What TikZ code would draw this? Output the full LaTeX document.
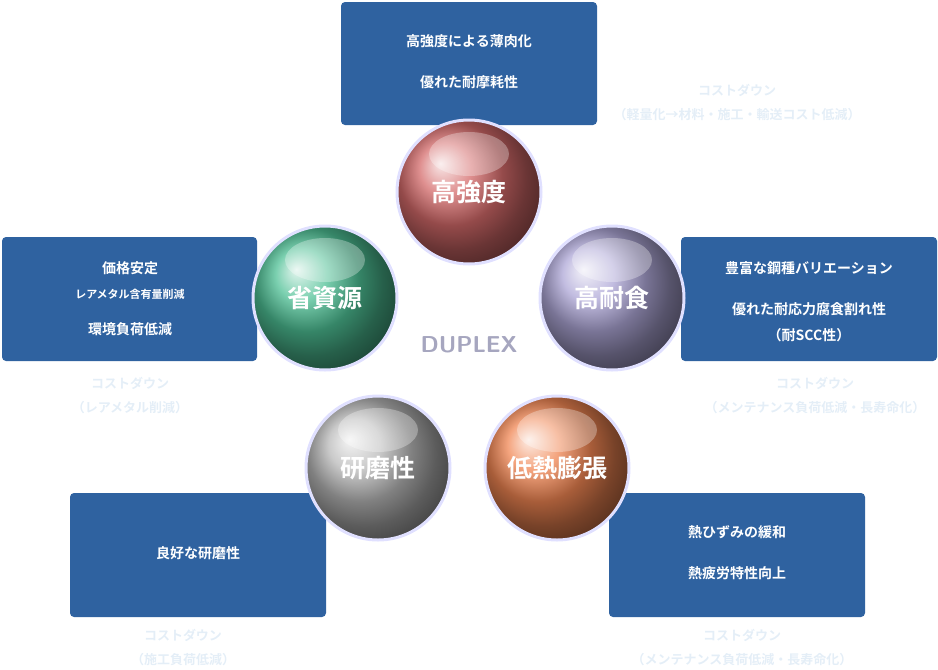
\documentclass[tikz,border=0pt]{standalone}
\usepackage{fontspec}
\setmainfont{Noto Sans CJK JP}
\newfontfamily\jpb{Noto Sans CJK JP Bold}
\usetikzlibrary{shadings,calc}
\definecolor{boxc}{HTML}{2F62A0}
\definecolor{faint}{HTML}{E4EEF7}
\definecolor{cr}{HTML}{D46A6A}
\definecolor{cg}{HTML}{4DBF94}
\definecolor{cp}{HTML}{ADA6D6}
\definecolor{cy}{HTML}{B8B8B8}
\definecolor{co}{HTML}{F08552}
\tikzset{x=1pt,y=-1pt,
 infobox/.style={fill=boxc,rounded corners=4pt,draw=none},
 btxt/.style={text=white,font=\jpb\fontsize{14}{18}\selectfont,align=center},
 ftxt/.style={text=faint,font=\jpb\fontsize{13}{24}\selectfont,align=center},
 ball/.style={circle,minimum size=144pt,draw=white!88!blue,line width=3pt,inner sep=0pt}}
\newcommand{\myball}[4]{%
 \node[ball,ball color=#3] (#1) at #2 {};
 \fill[white,opacity=0.3] ($(#1.center)+(0,-38)$) ellipse (40pt and 22pt);
 \node[text=white,font=\jpb\fontsize{25}{27}\selectfont] at (#1.center) {#4};}
\begin{document}
\begin{tikzpicture}
\useasboundingbox (0,0) rectangle (938,670);
\fill[infobox] (341,2) rectangle (597,125);
\node[btxt] (t1) at (469,41) {高強度による薄肉化};
\node[btxt] (t2) at (469,82) {優れた耐摩耗性};
\node[ftxt] (f1) at (737,103) {コストダウン\\（軽量化→材料・施工・輸送コスト低減）};
\fill[infobox] (2,237) rectangle (257,361);
\node[btxt] (l1) at (130,268) {価格安定};
\node[btxt,font=\jpb\fontsize{11}{13}\selectfont] (l2) at (130,294) {レアメタル含有量削減};
\node[btxt] (l3) at (130,329) {環境負荷低減};
\node[ftxt] (f2) at (130,396) {コストダウン\\（レアメタル削減）};
\fill[infobox] (681,237) rectangle (937,361);
\node[btxt] (r1) at (809,268) {豊富な鋼種バリエーション};
\node[btxt,font=\jpb\fontsize{14}{26}\selectfont] (r2) at (809,322) {優れた耐応力腐食割れ性\\（耐SCC性）};
\node[ftxt] (f3) at (815,396) {コストダウン\\（メンテナンス負荷低減・長寿命化）};
\fill[infobox] (70,493) rectangle (326,617);
\node[btxt] (bl) at (198,553) {良好な研磨性};
\node[ftxt] (f4) at (183,648) {コストダウン\\（施工負荷低減）};
\fill[infobox] (609,493) rectangle (865,617);
\node[btxt] (br1) at (737,532) {熱ひずみの緩和};
\node[btxt] (br2) at (737,573) {熱疲労特性向上};
\node[ftxt] (f5) at (742,648) {コストダウン\\（メンテナンス負荷低減・長寿命化）};
\node[text=white!80!blue!50!gray,font=\sffamily\bfseries\fontsize{23}{25}\selectfont] (dx) at (469,345) {DUPLEX};
\myball{c1}{(469,192)}{cr}{高強度}
\myball{c2}{(325,298)}{cg}{省資源}
\myball{c3}{(612,298)}{cp}{高耐食}
\myball{c4}{(378,468)}{cy}{研磨性}
\myball{c5}{(557,468)}{co}{低熱膨張}
\end{tikzpicture}
\end{document}
